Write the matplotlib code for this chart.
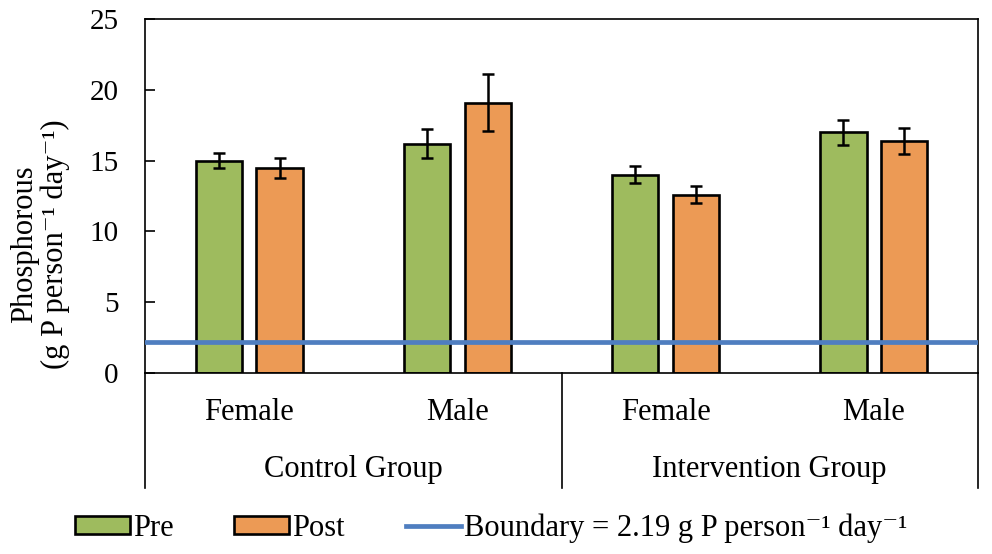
import matplotlib
matplotlib.use("Agg")
import matplotlib.pyplot as plt
from matplotlib.patches import Patch
from matplotlib.lines import Line2D
import numpy as np

# ---- data ----
groups = ["Control Group", "Intervention Group"]
sexes = ["Female", "Male", "Female", "Male"]
pre = [15.0, 16.2, 14.0, 17.0]
post = [14.5, 19.1, 12.6, 16.4]
pre_err = [0.55, 1.0, 0.6, 0.87]
post_err = [0.7, 2.0, 0.6, 0.9]
boundary = 2.19
yticks = [0, 5, 10, 15, 20, 25]

GREEN = "#9EBB5E"
ORANGE = "#EC9A55"
BLUE = "#4F7EC0"
FONT = ["Liberation Serif", "DejaVu Serif"]
FS = 22

plt.rcParams["font.family"] = FONT

fig = plt.figure(figsize=(9.92, 5.54), dpi=100)
ax = fig.add_axes([145/992, 1-373/554, (978-145)/992, (373-19)/554])

x = np.arange(len(pre))
w = 0.223
off = 0.146
ax.bar(x - off, pre, w, color=GREEN, edgecolor="black", linewidth=1.9, zorder=2)
ax.bar(x + off, post, w, color=ORANGE, edgecolor="black", linewidth=1.9, zorder=2)
ax.errorbar(x - off, pre, yerr=pre_err, fmt="none", ecolor="black",
            elinewidth=1.8, capsize=4.5, capthick=1.8, zorder=4)
ax.errorbar(x + off, post, yerr=post_err, fmt="none", ecolor="black",
            elinewidth=1.8, capsize=4.5, capthick=1.8, zorder=4)
ax.axhline(boundary, color=BLUE, linewidth=3.4, zorder=3)

ax.set_xlim(-0.5, len(pre) - 0.5)
ax.set_ylim(0, 25)
ax.set_yticks(yticks)
ax.set_yticklabels([str(t) for t in yticks], fontsize=21)
ax.tick_params(axis="y", direction="in", length=7, width=1.2, pad=19)
ax.set_xticks([])
for s in ax.spines.values():
    s.set_linewidth(1.2)
    s.set_color("black")

# category table below the axis
trans = ax.get_xaxis_transform()
bottom = -(488-373)/354
for xv in [-0.5, 1.5, len(pre) - 0.5]:
    ax.add_line(Line2D([xv, xv], [0, bottom], transform=trans, color="black",
                       linewidth=1.2, clip_on=False))
for i, s in enumerate(sexes):
    ax.text(i, -(412-373)/354, s, transform=trans, ha="center", va="center",
            fontsize=FS)
for j, g in enumerate(groups):
    ax.text(2*j + 0.5, -(470-373)/354, g, transform=trans, ha="center",
            va="center", fontsize=FS)

fig.text(40/992, 1-244/554, "Phosphorous\n(g P person\u207b\u00b9 day\u207b\u00b9)",
         rotation=90, ha="center", va="center", multialignment="center",
         fontsize=FS, linespacing=1.05)

handles = [Patch(facecolor=GREEN, edgecolor="black", linewidth=1.9),
           Patch(facecolor=ORANGE, edgecolor="black", linewidth=1.9),
           Line2D([], [], color=BLUE, linewidth=3.4)]
labels = ["Pre", "Post", "Boundary = 2.19 g P person\u207b\u00b9 day\u207b\u00b9"]
fig.legend(handles, labels, loc="center", bbox_to_anchor=(491/992, 1-528/554),
           ncol=3, frameon=False, fontsize=FS, handlelength=1.8,
           handleheight=0.55, handletextpad=0.1, columnspacing=2.0,
           borderpad=0, borderaxespad=0)

fig.savefig("out.png", dpi=100)
